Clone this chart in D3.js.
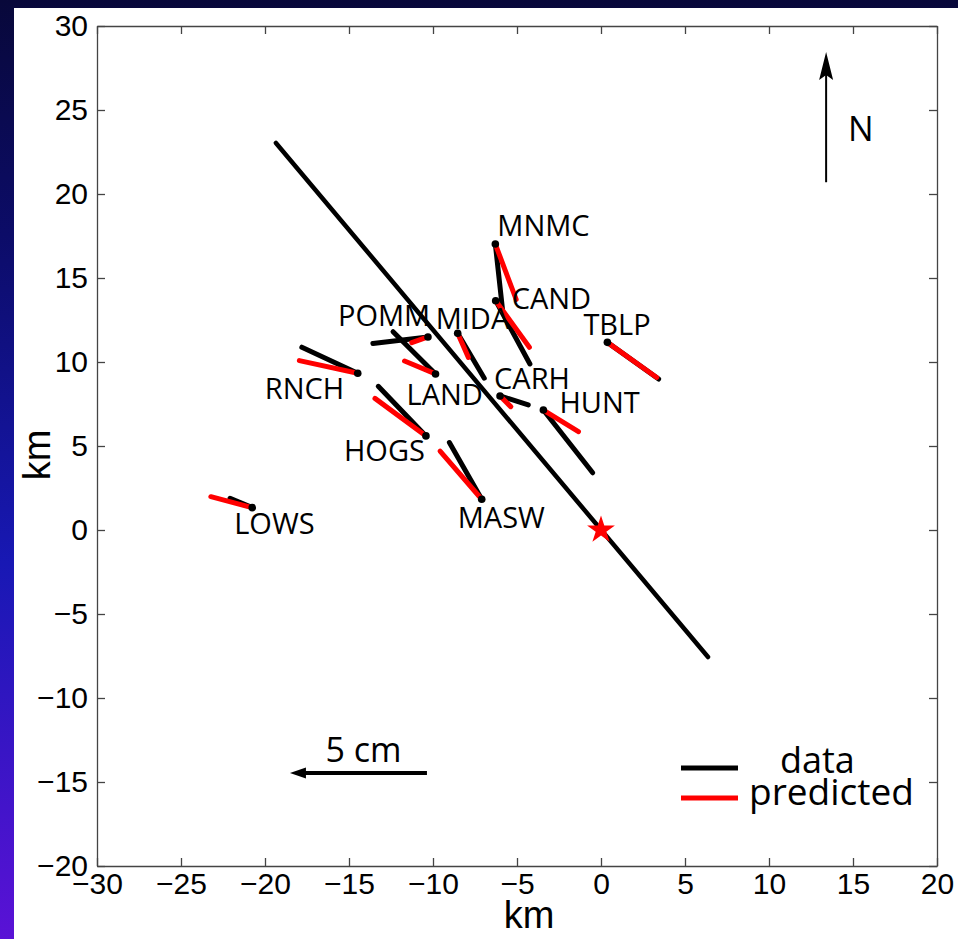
<!DOCTYPE html>
<html>
<head>
<meta charset="utf-8">
<script src="https://cdn.jsdelivr.net/npm/d3@7"></script>
<style>
  html, body { margin: 0; padding: 0; background: #fff; }
  svg { display: block; }
</style>
</head>
<body>
<svg id="chart" width="958" height="939"></svg>
<script>
// ---------------- DATA ----------------
const stations = ["MNMC", "CAND", "TBLP", "POMM", "MIDA", "RNCH", "LAND", "CARH", "HUNT", "HOGS", "MASW", "LOWS"];
// station positions (km, relative to epicenter)
const stationX = [-6.29, -6.27, 0.38, -10.30, -8.53, -14.48, -9.85, -6.01, -3.43, -10.42, -7.10, -20.76];
const stationY = [17.02, 13.65, 11.17, 11.49, 11.71, 9.33, 9.29, 7.98, 7.14, 5.60, 1.83, 1.33];
// observed displacement (cm)
const dataEast  = [0.26, 1.25, 1.87, -2.01, 0.97, -2.04, -1.55, 1.03, 1.80, -1.74, -1.18, -0.81];
const dataNorth = [-2.37, -2.31, -1.34, -0.24, -1.64, 0.95, 1.54, -0.33, -2.29, 1.81, 2.07, 0.34];
// predicted displacement (cm)
const predEast  = [0.76, 1.23, 1.80, -0.59, 0.39, -2.13, -1.13, 0.39, 1.28, -1.86, -1.52, -1.51];
const predNorth = [-2.02, -1.70, -1.28, -0.21, -0.88, 0.46, 0.47, -0.39, -0.79, 1.37, 1.76, 0.40];
// fault trace (km)
const faultX = [-19.35, 6.37];
const faultY = [23.04, -7.56];
// epicenter (km)
const epicenter = [0, 0];
// vector scale: km of map per cm of displacement
const kmPerCm = 1.631;
const scaleBarCm = 5;
const xTicks = [-30, -25, -20, -15, -10, -5, 0, 5, 10, 15, 20];
const yTicks = [-20, -15, -10, -5, 0, 5, 10, 15, 20, 25, 30];
const legendLabels = ["data", "predicted"];

// ---------------- LAYOUT ----------------
// label offsets in px from station (left edge, baseline)
const labelDX = [2, 16, -24, -90, -22, -93, -29, -6, 16, -82, -24, -18];
const labelDY = [-8, 8, -7, -11, -4, 26, 31, -7, 3, 25, 29, 26];

const svg = d3.select("#chart");
const defs = svg.append("defs");
const grad = defs.append("linearGradient").attr("id", "bg").attr("x1", 0).attr("y1", 0).attr("x2", 0).attr("y2", 1);
grad.append("stop").attr("offset", "0%").attr("stop-color", "#08083a");
grad.append("stop").attr("offset", "25%").attr("stop-color", "#0c0c68");
grad.append("stop").attr("offset", "60%").attr("stop-color", "#1818b4");
grad.append("stop").attr("offset", "100%").attr("stop-color", "#5a12d6");
svg.append("rect").attr("width", 958).attr("height", 939).attr("fill", "url(#bg)");
svg.append("rect").attr("x", 14).attr("y", 8).attr("width", 944).attr("height", 931).attr("fill", "#fff");

const x = d3.scaleLinear().domain([-30, 20]).range([97, 937]);
const y = d3.scaleLinear().domain([-20, 30]).range([866, 26]);

const axisColor = "#444";
const tickFont = "'Liberation Sans', Arial, Helvetica, sans-serif";
const textFont = "'Open Sans', 'Noto Sans', sans-serif";

function styleAxis(g) {
  g.select(".domain").attr("stroke", axisColor).attr("stroke-width", 1.3);
  g.selectAll(".tick line").attr("stroke", axisColor).attr("stroke-width", 1.3);
  g.selectAll(".tick text").attr("fill", "#000").style("font-family", tickFont).style("font-size", "30px");
}

svg.append("g").attr("transform", `translate(0,${y(-20)})`)
  .call(d3.axisBottom(x).tickValues(xTicks).tickSize(-8).tickSizeOuter(0).tickPadding(7))
  .call(styleAxis);
svg.append("g").attr("transform", `translate(${x(-30)},0)`)
  .call(d3.axisLeft(y).tickValues(yTicks).tickSize(-8).tickSizeOuter(0).tickPadding(9))
  .call(styleAxis);
svg.append("g").attr("transform", `translate(0,${y(30)})`)
  .call(d3.axisTop(x).tickValues(xTicks).tickSize(-8).tickSizeOuter(0).tickFormat(""))
  .call(styleAxis);
svg.append("g").attr("transform", `translate(${x(20)},0)`)
  .call(d3.axisRight(y).tickValues(yTicks).tickSize(-8).tickSizeOuter(0).tickFormat(""))
  .call(styleAxis);

// axis titles
svg.append("text").attr("x", 529).attr("y", 928).attr("text-anchor", "middle")
  .style("font-family", tickFont).style("font-size", "38px").text("km");
svg.append("text").attr("transform", "translate(50,455) rotate(-90)").attr("text-anchor", "middle")
  .style("font-family", tickFont).style("font-size", "38px").text("km");

// fault trace
svg.append("line")
  .attr("x1", x(faultX[0])).attr("y1", y(faultY[0]))
  .attr("x2", x(faultX[1])).attr("y2", y(faultY[1]))
  .attr("stroke", "#000").attr("stroke-width", 4.5).attr("stroke-linecap", "round");

const idx = d3.range(stations.length);
// observed vectors
svg.append("g").selectAll("line").data(idx).join("line")
  .attr("x1", i => x(stationX[i])).attr("y1", i => y(stationY[i]))
  .attr("x2", i => x(stationX[i] + dataEast[i] * kmPerCm))
  .attr("y2", i => y(stationY[i] + dataNorth[i] * kmPerCm))
  .attr("stroke", "#000").attr("stroke-width", 5).attr("stroke-linecap", "round");
// predicted vectors
svg.append("g").selectAll("line").data(idx).join("line")
  .attr("x1", i => x(stationX[i])).attr("y1", i => y(stationY[i]))
  .attr("x2", i => x(stationX[i] + predEast[i] * kmPerCm))
  .attr("y2", i => y(stationY[i] + predNorth[i] * kmPerCm))
  .attr("stroke", "#ff0000").attr("stroke-width", 5).attr("stroke-linecap", "round");
// station dots
svg.append("g").selectAll("circle").data(idx).join("circle")
  .attr("cx", i => x(stationX[i])).attr("cy", i => y(stationY[i])).attr("r", 3.8).attr("fill", "#000");
// labels
svg.append("g").selectAll("text").data(idx).join("text")
  .attr("x", i => x(stationX[i]) + labelDX[i]).attr("y", i => y(stationY[i]) + labelDY[i])
  .style("font-family", textFont).style("font-size", "29px").attr("fill", "#000")
  .text(i => stations[i]);

// epicenter star
svg.append("path")
  .attr("d", d3.symbol().type(d3.symbolStar).size(240)())
  .attr("transform", `translate(${x(epicenter[0])},${y(epicenter[1])})`)
  .attr("fill", "#ff0000");

// North arrow
const nx = x(13.4), nTop = y(28.45), nBot = y(20.7);
svg.append("line").attr("x1", nx).attr("y1", nBot).attr("x2", nx).attr("y2", nTop + 20)
  .attr("stroke", "#000").attr("stroke-width", 2);
svg.append("path").attr("d", `M${nx},${nTop} L${nx - 7},${nTop + 28} L${nx},${nTop + 23} L${nx + 7},${nTop + 28} Z`).attr("fill", "#000");
svg.append("text").attr("x", nx + 22).attr("y", 141)
  .style("font-family", textFont).style("font-size", "34px").text("N");

// scale arrow (5 cm)
const sx0 = x(-10.36), sy0 = y(-14.46), sx1 = x(-10.36 - scaleBarCm * kmPerCm);
svg.append("line").attr("x1", sx0).attr("y1", sy0).attr("x2", sx1 + 12).attr("y2", sy0)
  .attr("stroke", "#000").attr("stroke-width", 4);
svg.append("path").attr("d", `M${sx1},${sy0} L${sx1 + 16},${sy0 - 5.5} L${sx1 + 16},${sy0 + 5.5} Z`).attr("fill", "#000");
svg.append("text").attr("x", (sx0 + sx1) / 2 + 5).attr("y", 762).attr("text-anchor", "middle")
  .style("font-family", textFont).style("font-size", "34px").text(scaleBarCm + " cm");

// legend
const legColors = ["#000", "#ff0000"];
const legY = [768, 798];
const legTextX = [780, 749];
const legTextY = [773, 805];
const legSize = ["36px", "37px"];
legendLabels.forEach((lab, i) => {
  svg.append("line").attr("x1", 681).attr("x2", 738).attr("y1", legY[i]).attr("y2", legY[i])
    .attr("stroke", legColors[i]).attr("stroke-width", 5);
  svg.append("text").attr("x", legTextX[i]).attr("y", legTextY[i])
    .style("font-family", textFont).style("font-size", legSize[i]).text(lab);
});
</script>
</body>
</html>
